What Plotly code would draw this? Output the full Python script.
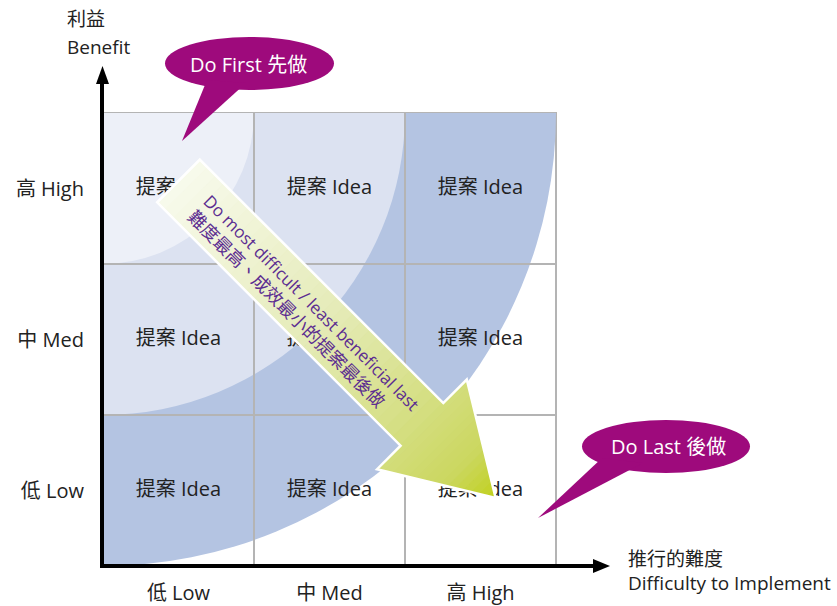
import numpy as np
import plotly.graph_objects as go

# ---- content -------------------------------------------------------------
difficulty_levels = ["低 Low", "中 Med", "高 High"]      # x axis, left -> right
benefit_levels = ["低 Low", "中 Med", "高 High"]         # y axis, bottom -> top
cell_label = "提案 Idea"
x_title = ["推行的難度", "Difficulty to Implement"]
y_title = ["利益", "Benefit"]
first_label = "Do First 先做"
last_label = "Do Last 後做"
arrow_note = ["Do most difficult / least beneficial last",
              "難度最高、成效最小的提案最後做"]

# ---- styling -------------------------------------------------------------
FONT = "Open Sans, Noto Sans CJK TC, sans-serif"
TEXT = "#222222"
GRID = "#b4b4b4"
ZONE_COLORS = ["#b4c4e2", "#dce2f1", "#edf0f8"]        # outer ring -> inner ring
BUBBLE = "#9e0a7c"
NOTE = "#5c2d91"
ARROW_STOPS = [(0.00, (248, 250, 236)), (0.45, (229, 235, 184)),
               (0.75, (212, 222, 128)), (0.90, (203, 215, 95)),
               (1.00, (192, 208, 30))]

W, H = 837, 606
L_M, R_M, T_M, B_M = 103, 281, 113, 40
PW, PH = W - L_M - R_M, H - T_M - B_M

n_x, n_y = len(difficulty_levels), len(benefit_levels)


def paper(xp, yp):
    """pixel position on the page -> paper coordinates"""
    return (xp - L_M) / PW, (H - B_M - yp) / PH


def ppath(points):
    pts = [paper(x, y) for x, y in points]
    return "M " + " L ".join(f"{x:.5f},{y:.5f}" for x, y in pts) + " Z"


def dpath(points):
    return "M " + " L ".join(f"{x:.5f},{y:.5f}" for x, y in points) + " Z"


def lerp_color(t):
    for (t0, c0), (t1, c1) in zip(ARROW_STOPS[:-1], ARROW_STOPS[1:]):
        if t <= t1:
            f = (t - t0) / (t1 - t0) if t1 > t0 else 0
            c = [round(a + (b - a) * f) for a, b in zip(c0, c1)]
            return f"rgb({c[0]},{c[1]},{c[2]})"
    c = ARROW_STOPS[-1][1]
    return f"rgb({c[0]},{c[1]},{c[2]})"


fig = go.Figure()

# ---- idea cells (a text trace, so the arrow shape can sit on top) ---------
gx, gy = np.meshgrid(np.arange(n_x) + 0.5, np.arange(n_y) + 0.5)
fig.add_trace(go.Scatter(
    x=gx.ravel(), y=gy.ravel(), mode="text",
    text=[cell_label] * gx.size,
    textfont=dict(family=FONT, size=20, color=TEXT),
    hoverinfo="skip", showlegend=False, cliponaxis=False,
))

shapes = []

# ---- priority rings around the high-benefit / low-difficulty corner -------
corner = (0, n_y)
for k, color in enumerate(ZONE_COLORS):
    r = n_x - k
    shapes.append(dict(type="circle", xref="x", yref="y",
                       x0=corner[0] - r, x1=corner[0] + r,
                       y0=corner[1] - r, y1=corner[1] + r,
                       fillcolor=color, line=dict(width=0), layer="below"))

# grid frame
shapes.append(dict(type="rect", xref="paper", yref="paper", x0=0, x1=1, y0=0, y1=1,
                   line=dict(color=GRID, width=2), fillcolor="rgba(0,0,0,0)",
                   layer="between"))

# ---- big diagonal arrow with a gradient fill ------------------------------
start = np.array([0.50, 2.55])
tip = np.array([2.60, 0.45])
vec = tip - start
length = np.hypot(*vec)
u = vec / length
nrm = np.array([-u[1], u[0]])
shaft_hw, head_hw, head_len = 0.20, 0.42, 0.69
t_head = length - head_len


def half_width(t, in_head):
    if not in_head:
        return shaft_hw
    return head_hw * (length - t) / head_len


sb = np.linspace(0, t_head, 31)
bounds = [(a, b, False) for a, b in zip(sb[:-1], sb[1:])]
hb = np.linspace(t_head, length, 16)
bounds += [(a, b, True) for a, b in zip(hb[:-1], hb[1:])]
for a, b, in_head in bounds:
    ha, hbw = half_width(a, in_head), half_width(b, in_head)
    a2 = a - 0.004 if a > 0 else a
    pa, pb = start + u * a2, start + u * b
    pts = [pa + nrm * ha, pb + nrm * hbw, pb - nrm * hbw, pa - nrm * ha]
    col = lerp_color((a + b) / 2 / length)
    shapes.append(dict(type="path", xref="x", yref="y", path=dpath(pts),
                       fillcolor=col, line=dict(color=col, width=0.6),
                       layer="above"))

hs = start + u * t_head
outline = [start + nrm * shaft_hw, hs + nrm * shaft_hw, hs + nrm * head_hw, tip,
           hs - nrm * head_hw, hs - nrm * shaft_hw, start - nrm * shaft_hw]
shapes.append(dict(type="path", xref="x", yref="y", path=dpath(outline),
                   fillcolor="rgba(0,0,0,0)", line=dict(color="white", width=2.5),
                   layer="above"))

# ---- axes drawn as arrows -------------------------------------------------
x0p, y0p = paper(102, 568)
_, y1p = paper(102, 82)
shapes.append(dict(type="line", xref="paper", yref="paper", x0=x0p, x1=x0p,
                   y0=y0p, y1=y1p, line=dict(color="black", width=4), layer="above"))
shapes.append(dict(type="path", xref="paper", yref="paper",
                   path=ppath([(102.5, 66), (96, 84), (109, 84)]),
                   fillcolor="black", line=dict(width=0), layer="above"))
xa, ya = paper(100, 566)
xb, _ = paper(596, 566)
shapes.append(dict(type="line", xref="paper", yref="paper", x0=xa, x1=xb,
                   y0=ya, y1=ya, line=dict(color="black", width=4), layer="above"))
shapes.append(dict(type="path", xref="paper", yref="paper",
                   path=ppath([(610, 566), (593, 559), (593, 573)]),
                   fillcolor="black", line=dict(width=0), layer="above"))

# ---- speech bubbles ---------------------------------------------------------
for (ex0, ey0, ex1, ey1), tail in [((165, 37, 334, 90), [(207, 80), (246, 83), (182, 141)]),
                                   ((582, 420, 750, 473), [(602, 458), (643, 463), (538, 518)])]:
    px0, py0 = paper(ex0, ey1)
    px1, py1 = paper(ex1, ey0)
    shapes.append(dict(type="circle", xref="paper", yref="paper",
                       x0=px0, x1=px1, y0=py0, y1=py1,
                       fillcolor=BUBBLE, line=dict(width=0), layer="above"))
    shapes.append(dict(type="path", xref="paper", yref="paper", path=ppath(tail),
                       fillcolor=BUBBLE, line=dict(width=0), layer="above"))

annotations = []


def add_text(text, xp, yp, size=19, color=TEXT, xanchor="center", **kw):
    ax, ay = paper(xp, yp)
    annotations.append(dict(text=text, x=ax, y=ay, xref="paper", yref="paper",
                            xanchor=xanchor, yanchor="middle", showarrow=False,
                            font=dict(family=FONT, size=size, color=color), **kw))


add_text(first_label, 248, 65, size=20, color="white")
add_text(last_label, 668, 446, size=20, color="white")
add_text(y_title[0], 65, 19, xanchor="left")
add_text(y_title[1], 65, 47, xanchor="left")
add_text(x_title[0], 626, 559, xanchor="left")
add_text(x_title[1], 626, 583, xanchor="left")

# note written along the arrow
annotations.append(dict(
    text=f"{arrow_note[0]}<br><span style='font-size:18px'>{arrow_note[1]}</span>",
    x=1.331, y=1.695, xref="x", yref="y", showarrow=False, textangle=45,
    align="left", xanchor="center", yanchor="middle",
    font=dict(family=FONT, size=17, color=NOTE)))

axis_common = dict(range=[0, 3], tickmode="array", tickvals=[0.5, 1.5, 2.5],
                   ticks="", showgrid=False, zeroline=False, showline=False,
                   fixedrange=True, automargin=False,
                   tickfont=dict(family=FONT, size=20, color=TEXT),
                   minor=dict(tickmode="array", tickvals=[1, 2], showgrid=True,
                              gridcolor=GRID, gridwidth=2, ticks=""))

fig.update_layout(
    width=W, height=H,
    margin=dict(l=L_M, r=R_M, t=T_M, b=B_M, pad=0, autoexpand=False),
    paper_bgcolor="white", plot_bgcolor="white",
    showlegend=False,
    xaxis=dict(ticktext=difficulty_levels, ticklabelstandoff=13, **axis_common),
    yaxis=dict(ticktext=benefit_levels, ticklabelstandoff=18, **axis_common),
    shapes=shapes, annotations=annotations,
    font=dict(family=FONT),
)

fig.write_html("out.html", config={"displayModeBar": False})
